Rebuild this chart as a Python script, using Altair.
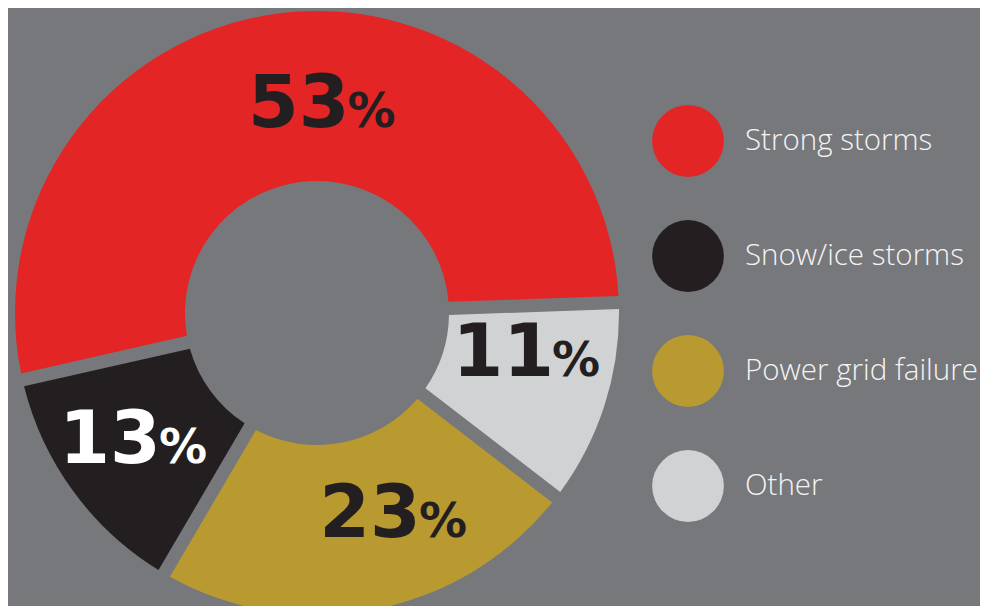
import math
import altair as alt
import pandas as pd

# ---- data ----
categories = ["Strong storms", "Snow/ice storms", "Power grid failure", "Other"]
values = [53, 13, 23, 11]
stack_order = [3, 2, 1, 0]          # clockwise order starting at 3 o'clock
slice_colors = ["#e32526", "#231f20", "#b89a31", "#d1d2d4"]
label_colors = ["#231f20", "#ffffff", "#231f20", "#231f20"]

# label nudges (style only)
nudges = {
    "Strong storms": (57.5, 29),
    "Snow/ice storms": (16, 22),
    "Power grid failure": (59.5, 11),
    "Other": (27.5, -3),
}

df = pd.DataFrame({
    "cat": categories,
    "value": values,
    "ord": stack_order,
    "num": [str(v) for v in values],
})

CX, CY = 309, 305
R_IN, R_OUT = 132, 302
R_LAB = 217
BG = "#77787b"
START = math.pi / 2 - math.radians(2)

theta_scale = alt.Scale(domain=[0, sum(values)], range=[START, START + 2 * math.pi])

base = alt.Chart(df).transform_stack(
    stack="value", groupby=[], as_=["t0", "t1"], sort=[alt.SortField("ord", order="ascending")]
).transform_calculate(mid="(datum.t0 + datum.t1) / 2")

arcs = base.mark_arc(innerRadius=R_IN, outerRadius=R_OUT, padAngle=0.04).encode(
    theta=alt.Theta("t0:Q", scale=theta_scale, stack=None),
    theta2="t1:Q",
    x=alt.value(CX),
    y=alt.value(CY),
    color=alt.Color(
        "cat:N",
        scale=alt.Scale(domain=categories, range=slice_colors),
        legend=alt.Legend(
            orient="none",
            legendX=644,
            legendY=97,
            title=None,
            symbolType="circle",
            symbolSize=5150,
            symbolStrokeWidth=0,
            symbolOpacity=1,
            labelFont="Open Sans",
            labelFontWeight=300,
            labelFontSize=29.5,
            labelColor="#f4f4f4",
            labelOffset=21,
            rowPadding=43,
            padding=0,
            labelLimit=400,
        ),
    ),
)

layers = [arcs]
for cat, lc in zip(categories, label_colors):
    ndx, ndy = nudges[cat]
    sub = base.transform_filter(alt.datum.cat == cat)
    layers.append(
        sub.mark_text(
            radius=R_LAB, align="right", baseline="alphabetic",
            dx=ndx + 3, dy=ndy, font="DejaVu Sans", fontWeight="bold", fontSize=73, color=lc,
        ).encode(
            theta=alt.Theta("mid:Q", scale=theta_scale, stack=None),
            x=alt.value(CX), y=alt.value(CY),
            text="num:N",
        )
    )
    layers.append(
        sub.mark_text(
            radius=R_LAB, align="left", baseline="alphabetic",
            dx=ndx + 1, dy=ndy, font="DejaVu Sans", fontWeight="bold", fontSize=48, color=lc,
        ).encode(
            theta=alt.Theta("mid:Q", scale=theta_scale, stack=None),
            x=alt.value(CX), y=alt.value(CY),
            text=alt.value("%"),
        )
    )

chart = alt.layer(*layers).properties(
    width=972, height=598, autosize=alt.AutoSizeParams(type="none"), padding=0,
    background=BG,
).configure_view(stroke=None)

chart.save("out.html", embed_options={"renderer": "svg", "actions": False})
